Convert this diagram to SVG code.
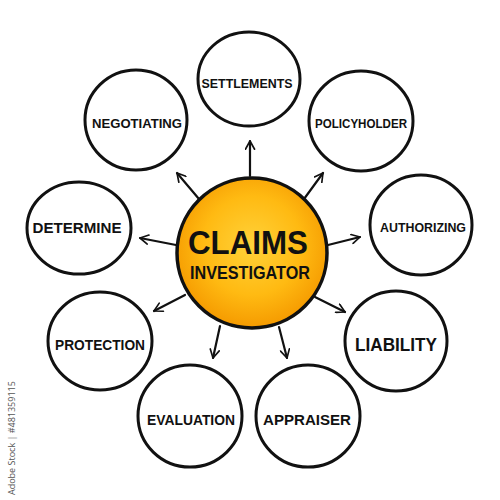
<svg xmlns="http://www.w3.org/2000/svg" width="500" height="500" viewBox="0 0 500 500">
  <style>
    .node { fill: #ffffff; stroke: #111111; stroke-width: 3; }
    .lbl { font-family: "Liberation Sans", "DejaVu Sans", sans-serif; font-weight: bold; fill: #111111; text-anchor: middle; }
    .conn { stroke: #111111; stroke-width: 2.2; fill: none; stroke-linecap: round; }
    .wm { font-family: "Open Sans", "Liberation Sans", sans-serif; font-size: 9px; fill: #555555; }
  </style>
  <defs>
    <radialGradient id="orange" cx="50%" cy="45%" r="55%">
      <stop offset="0" stop-color="#ffd23a"/>
      <stop offset="0.6" stop-color="#ffba12"/>
      <stop offset="1" stop-color="#f59a00"/>
    </radialGradient>
    <marker id="arrow" viewBox="0 0 12 12" refX="10" refY="6" markerWidth="11" markerHeight="11" markerUnits="userSpaceOnUse" orient="auto">
      <path d="M1,1 L10,6 L1,11" fill="none" stroke="#111111" stroke-width="1.8" stroke-linecap="round" stroke-linejoin="round"/>
    </marker>
  </defs>
  <rect width="500" height="500" fill="#ffffff"/>

  <g id="connectors">
    <line class="conn" x1="250" y1="176" x2="250" y2="141" marker-end="url(#arrow)"/>
    <line class="conn" x1="304" y1="199" x2="323" y2="173" marker-end="url(#arrow)"/>
    <line class="conn" x1="328" y1="245" x2="360" y2="237" marker-end="url(#arrow)"/>
    <line class="conn" x1="315" y1="297" x2="345" y2="312" marker-end="url(#arrow)"/>
    <line class="conn" x1="279" y1="327" x2="287" y2="358" marker-end="url(#arrow)"/>
    <line class="conn" x1="220" y1="326" x2="213" y2="358" marker-end="url(#arrow)"/>
    <line class="conn" x1="185" y1="295" x2="154" y2="311" marker-end="url(#arrow)"/>
    <line class="conn" x1="176" y1="245" x2="140" y2="238" marker-end="url(#arrow)"/>
    <line class="conn" x1="199" y1="199" x2="177" y2="173" marker-end="url(#arrow)"/>
  </g>

  <g id="center">
    <circle cx="252" cy="253" r="75" fill="url(#orange)" stroke="#111111" stroke-width="3.5"/>
    <text class="lbl" x="248" y="254" style="font-size:33px" textLength="120" lengthAdjust="spacingAndGlyphs">CLAIMS</text>
    <text class="lbl" x="250" y="279" style="font-size:18px" textLength="120" lengthAdjust="spacingAndGlyphs">INVESTIGATOR</text>
  </g>

  <g id="settlements">
    <ellipse class="node" cx="249" cy="79" rx="51" ry="47"/>
    <text class="lbl" x="247" y="88" style="font-size:13px" textLength="91" lengthAdjust="spacingAndGlyphs">SETTLEMENTS</text>
  </g>
  <g id="policyholder">
    <ellipse class="node" cx="361" cy="121" rx="52" ry="50"/>
    <text class="lbl" x="361" y="128" style="font-size:12px" textLength="92" lengthAdjust="spacingAndGlyphs">POLICYHOLDER</text>
  </g>
  <g id="authorizing">
    <ellipse class="node" cx="421" cy="225" rx="51" ry="50"/>
    <text class="lbl" x="423" y="232" style="font-size:13px" textLength="86" lengthAdjust="spacingAndGlyphs">AUTHORIZING</text>
  </g>
  <g id="liability">
    <ellipse class="node" cx="396" cy="341" rx="51" ry="50"/>
    <text class="lbl" x="396" y="351" style="font-size:18px" textLength="82" lengthAdjust="spacingAndGlyphs">LIABILITY</text>
  </g>
  <g id="appraiser">
    <ellipse class="node" cx="308" cy="416" rx="52" ry="51"/>
    <text class="lbl" x="307" y="425" style="font-size:15px" textLength="88" lengthAdjust="spacingAndGlyphs">APPRAISER</text>
  </g>
  <g id="evaluation">
    <ellipse class="node" cx="190" cy="416" rx="52" ry="51"/>
    <text class="lbl" x="191" y="425" style="font-size:15px" textLength="88" lengthAdjust="spacingAndGlyphs">EVALUATION</text>
  </g>
  <g id="protection">
    <ellipse class="node" cx="100" cy="341" rx="52" ry="49"/>
    <text class="lbl" x="100" y="350" style="font-size:14px" textLength="90" lengthAdjust="spacingAndGlyphs">PROTECTION</text>
  </g>
  <g id="determine">
    <ellipse class="node" cx="79" cy="228" rx="52" ry="46"/>
    <text class="lbl" x="77" y="233" style="font-size:15px" textLength="89" lengthAdjust="spacingAndGlyphs">DETERMINE</text>
  </g>
  <g id="negotiating">
    <ellipse class="node" cx="136" cy="120" rx="51" ry="50"/>
    <text class="lbl" x="137" y="128" style="font-size:13px" textLength="90" lengthAdjust="spacingAndGlyphs">NEGOTIATING</text>
  </g>

  <text class="wm" transform="translate(15,495) rotate(-90)">Adobe Stock | #481359115</text>
</svg>
